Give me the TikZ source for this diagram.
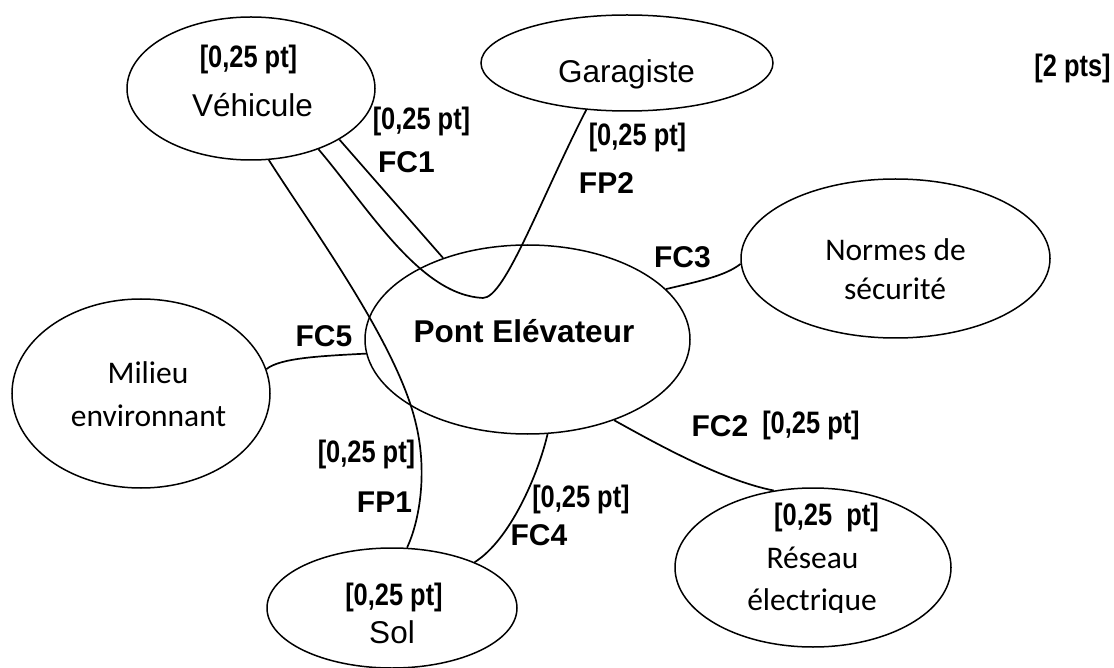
\documentclass[tikz,border=0pt]{standalone}
\usepackage{fontspec}
\setmainfont{Liberation Sans}
\newfontfamily\narrowb[FakeStretch=0.82]{Liberation Sans}
\newfontfamily\calibri{Carlito}
\usetikzlibrary{shapes.geometric}
\tikzset{
  ell/.style={draw, ellipse, line width=1.5pt, inner sep=0pt},
  conn/.style={line width=1.7pt},
  lbl/.style={font=\narrowb\bfseries\fontsize{31}{31}\selectfont, anchor=base, inner sep=0pt},
  fcl/.style={font=\bfseries\fontsize{30}{30}\selectfont, anchor=base, inner sep=0pt},
  txt/.style={font=\fontsize{31.5}{31.5}\selectfont, anchor=base, inner sep=0pt},
  cal/.style={font=\calibri\fontsize{31.5}{31.5}\selectfont, anchor=base, inner sep=0pt},
  ptxt/.style={font=\bfseries\fontsize{31.5}{31.5}\selectfont, anchor=base, inner sep=0pt}
}
\begin{document}
\begin{tikzpicture}[x=1pt,y=-1pt]
\useasboundingbox (0,0) rectangle (1114,668);
% ellipses
\node[ell, minimum width=248pt, minimum height=143pt] (veh) at (251,88.5) {};
\node[ell, minimum width=292pt, minimum height=96pt] (gar) at (627,63) {};
\node[ell, minimum width=309pt, minimum height=159pt] (nor) at (895.5,258.5) {};
\node[ell, minimum width=325pt, minimum height=189pt] (pont) at (527.5,339.5) {};
\node[ell, minimum width=258pt, minimum height=189pt] (mil) at (141,393.5) {};
\node[ell, minimum width=250pt, minimum height=120pt] (sol) at (392,608) {};
\node[ell, minimum width=276pt, minimum height=159pt] (res) at (813,567.5) {};
% connectors
\coordinate (fp1m) at (415,420);
\coordinate (fp2m) at (483,298);
\draw[conn] (veh.-76) .. controls (310,225) and (395,340) .. (fp1m)
  .. controls (428,470) and (420,520) .. (sol.76);
\draw[conn] (veh.-42) .. controls (370,210) and (420,295) .. (fp2m)
  .. controls (505,298) and (540,200) .. (gar.-131);
\draw[conn] (veh.-30) -- (pont.136);
\draw[conn] (pont.20) .. controls (700,281) and (725,276) .. (nor.182);
\draw[conn] (mil.11) .. controls (280,358) and (320,356) .. (pont.185.5);
\draw[conn] (pont.-43) .. controls (650,440) and (720,480) .. (res.117.6);
\draw[conn] (pont.-78) .. controls (538,475) and (510,540) .. (sol.29.4);
% texts
\node[lbl] (v1) at (248.5,68) {[0,25 pt]};
\node[txt] (vt) at (252.5,117) {Véhicule};
\node[lbl] (l2) at (421.5,130) {[0,25 pt]};
\node[fcl] (fc1) at (406.5,173) {FC1};
\node[txt] (gt) at (626.5,83) {Garagiste};
\node[lbl] (l3) at (637.5,146) {[0,25 pt]};
\node[fcl] (fp2) at (606.5,194) {FP2};
\node[fcl] (fc3) at (682.5,268) {FC3};
\node[cal] (nt1) at (895.5,261) {Normes de};
\node[cal] (nt2) at (895,300) {sécurité};
\node[ptxt] (pt) at (524,343) {Pont Elévateur};
\node[fcl] (fc5) at (324,347) {FC5};
\node[cal] (mt1) at (148,384) {Milieu};
\node[cal] (mt2) at (148.5,426) {environnant};
\node[lbl] (l4) at (366.5,462) {[0,25 pt]};
\node[fcl] (fp1) at (384.5,512) {FP1};
\node[lbl] (l5) at (394,605) {[0,25 pt]};
\node[txt] (st) at (392,643) {Sol};
\node[lbl] (l6) at (581,507) {[0,25 pt]};
\node[fcl] (fc4) at (539,545) {FC4};
\node[fcl] (fc2) at (720,436) {FC2};
\node[lbl] (l7) at (811,433) {[0,25 pt]};
\node[lbl] (l8) at (826.5,525) {[0,25~ pt]};
\node[cal] (rt1) at (812.5,568) {Réseau};
\begin{scope}
\clip (690,575) rectangle (940,612);
\node[cal] (rt2) at (812,610) {électrique};
\end{scope}
\node[lbl] (tot) at (1072.5,77) {[2 pts]};
\end{tikzpicture}
\end{document}
